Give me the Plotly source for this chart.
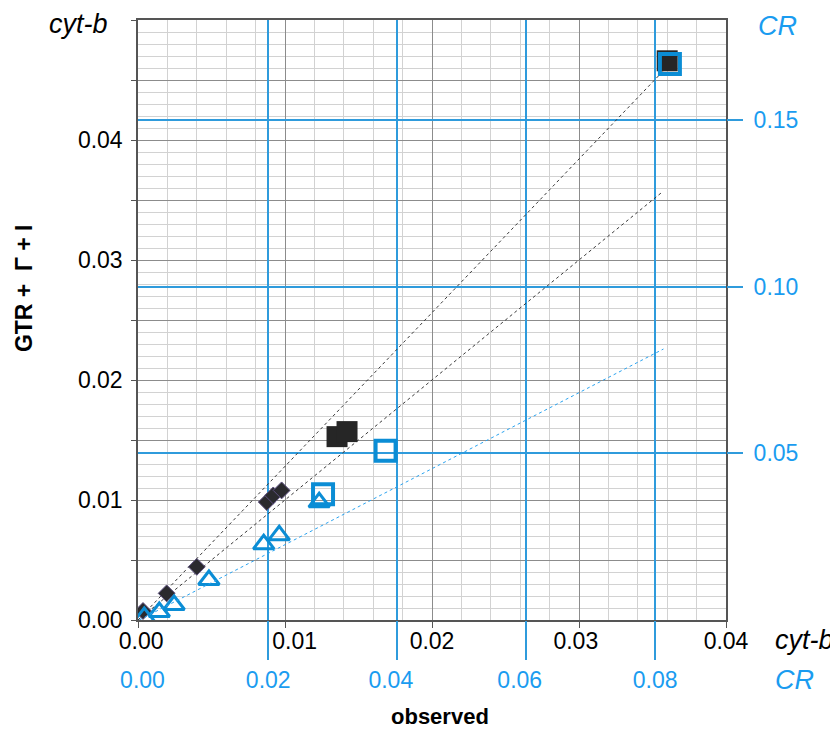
import plotly.graph_objects as go

# ---------------- data ----------------
# cyt-b : small filled diamonds
cytb_dia_x = [0.00034, 0.00195, 0.0040, 0.00876, 0.0092, 0.00977]
cytb_dia_y = [0.00075, 0.00222, 0.00443, 0.00983, 0.01038, 0.0108]
# cyt-b : large filled squares
cytb_sq_x = [0.01354, 0.01422, 0.0360]
cytb_sq_y = [0.01528, 0.0157, 0.0466]
# CR : open triangles
cr_tri_x = [0.00077, 0.0031, 0.0054, 0.0108, 0.0193, 0.0217, 0.0279]
cr_tri_y = [0.0009, 0.0024, 0.0045, 0.0120, 0.0227, 0.0254, 0.0353]
# CR : open squares
cr_sq_x = [0.0285, 0.0382, 0.0823]
cr_sq_y = [0.0377, 0.0508, 0.1668]
# reference / fit lines
fit_cytb_x = [0.0, 0.0360]
fit_cytb_y = [0.0, 0.0461]
diag_cytb = [0.0, 0.0357]
diag_cr = [0.0, 0.0813]

# tick labels
NB = "\u00a0"
cytb_x_ticks = [0.0, 0.01, 0.02, 0.03, 0.04]
cytb_x_text = [NB + "0.00", NB * 3 + "0.01", "0.02", "0.03" + NB, "0.04"]
cytb_y_ticks = [0.0, 0.005, 0.01, 0.015, 0.02, 0.025, 0.03, 0.035, 0.04, 0.045, 0.05]
cytb_y_text = ["0.00", "", "0.01", "", "0.02", "", "0.03", "", "0.04", "", ""]
cr_x_ticks = [0.0, 0.02, 0.04, 0.06, 0.08]
cr_x_text = [NB + "0.00", "0.02", "0.04" + NB * 2, "0.06" + NB * 2, "0.08"]
cr_y_ticks = [0.05, 0.10, 0.15]
cr_y_text = ["0.05", "0.10", "0.15"]

# ---------------- styling ----------------
FONT = "Liberation Sans, Arial, sans-serif"
BLUE_GRID = "#2f9bdc"
BLUE_TXT = "#1a9cf0"
BLUE_MK = "#0b8dd5"
DARK = "#262626"

# the page adds an 8px body margin; figure is sized to fit the window
OFF = 8
W, H = 830, 722
L, R, T, B = 130, 112, 10, 110


def px2paper(px, py):
    # px, py are window pixel coordinates
    fx, fy = px - OFF, py - OFF
    return (fx - L) / (W - L - R), (H - B - fy) / (H - T - B)


fig = go.Figure()

# cyt-b traces (primary axes)
fig.add_trace(go.Scatter(x=fit_cytb_x, y=fit_cytb_y, mode="lines",
                         line=dict(color="#3a3a3a", width=1, dash="dot"),
                         hoverinfo="skip", showlegend=False))
fig.add_trace(go.Scatter(x=diag_cytb, y=diag_cytb, mode="lines",
                         line=dict(color="#3a3a3a", width=1, dash="dot"),
                         hoverinfo="skip", showlegend=False))
fig.add_trace(go.Scatter(x=cytb_sq_x, y=cytb_sq_y, mode="markers",
                         marker=dict(symbol="square", size=21, color=DARK,
                                     line=dict(width=0)),
                         showlegend=False))
fig.add_trace(go.Scatter(x=cytb_dia_x, y=cytb_dia_y, mode="markers",
                         marker=dict(symbol="diamond", size=13, color="#2a2a2e",
                                     line=dict(width=1, color="#5d5180")),
                         showlegend=False))

# CR traces (secondary axes)
fig.add_trace(go.Scatter(x=diag_cr, y=diag_cr, mode="lines", xaxis="x3", yaxis="y2",
                         line=dict(color="#2aa3f0", width=1, dash="dot"),
                         hoverinfo="skip", showlegend=False))
fig.add_trace(go.Scatter(x=cr_tri_x, y=cr_tri_y, mode="markers", xaxis="x2", yaxis="y2",
                         marker=dict(symbol="triangle-up-open", size=18, color=BLUE_MK,
                                     line=dict(width=3, color=BLUE_MK)),
                         showlegend=False))
fig.add_trace(go.Scatter(x=cr_sq_x, y=cr_sq_y, mode="markers", xaxis="x2", yaxis="y2",
                         marker=dict(symbol="square-open", size=20, color=BLUE_MK,
                                     line=dict(width=4, color=BLUE_MK)),
                         showlegend=False))

cr_x_range = [-0.0002, 0.091]

fig.update_layout(
    width=W, height=H,
    margin=dict(l=L, r=R, t=T, b=B, pad=0),
    paper_bgcolor="white", plot_bgcolor="white",
    font=dict(family=FONT, size=23, color="black"),
    showlegend=False,
    xaxis=dict(
        range=[0, 0.04], tickmode="array", tickvals=cytb_x_ticks, ticktext=cytb_x_text,
        ticks="outside", ticklen=6, tickcolor="#555555", tickwidth=1,
        showgrid=True, gridcolor="#8c8c8c", gridwidth=1,
        minor=dict(tick0=0, dtick=0.002, showgrid=True, gridcolor="#d2d2d2", gridwidth=1.3),
        showline=True, mirror=True, linecolor="#555555", linewidth=1.5,
        zeroline=False, tickfont=dict(size=23, color="black"), ticklabelstandoff=-6,
    ),
    yaxis=dict(
        range=[0, 0.05], tickmode="array", tickvals=cytb_y_ticks, ticktext=cytb_y_text,
        ticks="outside", ticklen=5, tickcolor="#555555", tickwidth=1,
        showgrid=True, gridcolor="#8c8c8c", gridwidth=1,
        minor=dict(tick0=0, dtick=0.001, showgrid=True, gridcolor="#d2d2d2", gridwidth=1.3),
        showline=True, mirror=True, linecolor="#555555", linewidth=1.5,
        zeroline=False, tickfont=dict(size=23, color="black"), ticklabelstandoff=4,
    ),
    xaxis2=dict(
        overlaying="x", side="bottom", anchor="y", range=cr_x_range,
        tickmode="array", tickvals=cr_x_ticks[1:],
        ticks="outside", ticklen=39, tickcolor=BLUE_GRID, tickwidth=1.5,
        showticklabels=False, showgrid=True, gridcolor=BLUE_GRID, gridwidth=1.6,
        zeroline=False, showline=False,
    ),
    xaxis3=dict(
        overlaying="x", side="bottom", anchor="y", range=cr_x_range,
        tickmode="array", tickvals=cr_x_ticks, ticktext=cr_x_text, ticks="",
        showgrid=False, zeroline=False, showline=False,
        tickfont=dict(size=23, color=BLUE_TXT), ticklabelstandoff=44,
    ),
    yaxis2=dict(
        overlaying="y", side="right", anchor="x", range=[0, 0.18],
        tickmode="array", tickvals=cr_y_ticks, ticktext=cr_y_text,
        ticks="outside", ticklen=16, tickcolor=BLUE_GRID, tickwidth=1.5,
        showgrid=True, gridcolor=BLUE_GRID, gridwidth=1.6,
        zeroline=False, showline=False,
        tickfont=dict(size=23, color=BLUE_TXT), ticklabelstandoff=6,
    ),
)

annots = [
    ("cyt-b", 78, 22, dict(size=27, color="black"), 0, True),
    ("CR", 777, 24, dict(size=27, color=BLUE_TXT), 0, True),
    ("cyt-b", 804, 640, dict(size=27, color="black"), 0, True),
    ("CR", 794, 680, dict(size=27, color=BLUE_TXT), 0, True),
    ("<b>observed</b>", 440, 717, dict(size=22, color="black"), 0, False),
    ("<b>GTR +  Γ + I</b>", 24, 287, dict(size=23, color="black"), -90, False),
]
for text, px, py, font, ang, italic in annots:
    ax_, ay_ = px2paper(px, py)
    t = f"<i>{text}</i>" if italic else text
    fig.add_annotation(text=t, x=ax_, y=ay_, xref="paper", yref="paper",
                       xanchor="center", yanchor="middle", showarrow=False,
                       textangle=ang, font=dict(family=FONT, **font))

fig.write_html("out.html")
